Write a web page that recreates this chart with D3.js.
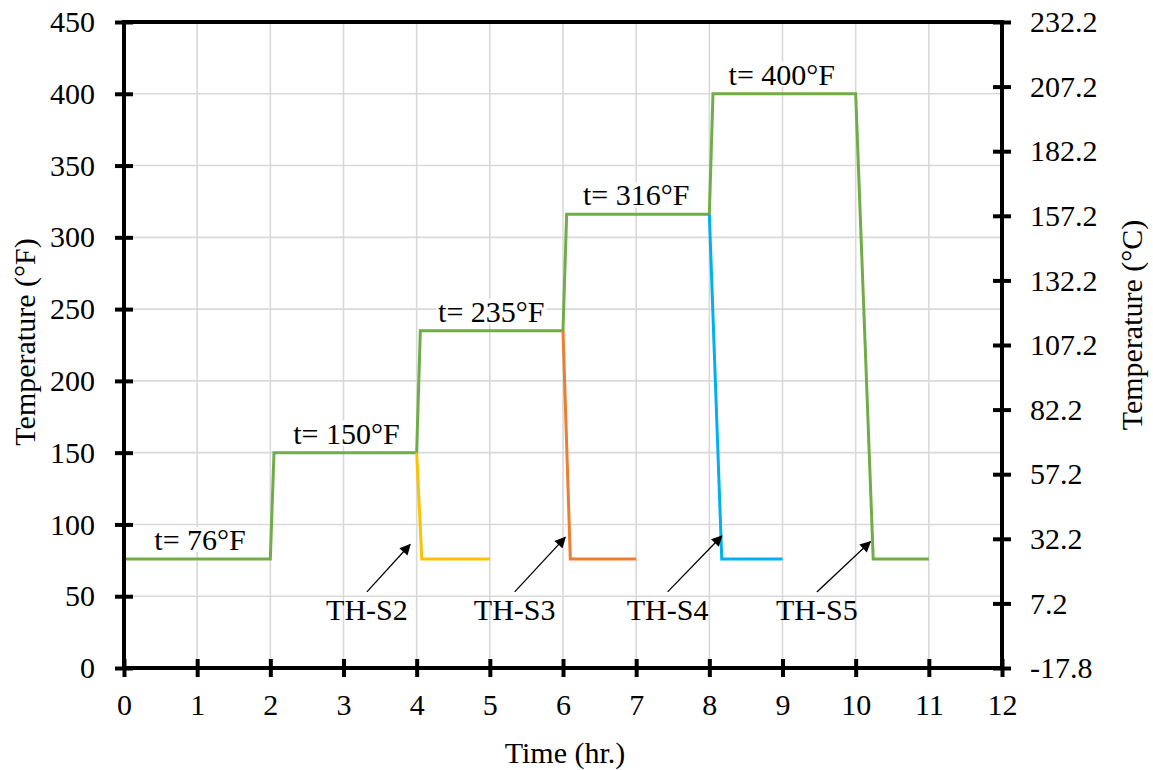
<!DOCTYPE html>
<html>
<head>
<meta charset="utf-8">
<script src="https://cdn.jsdelivr.net/npm/d3@7"></script>
<style>
  html, body { margin: 0; padding: 0; background: #fff; }
  svg text { font-family: "Liberation Serif", "Times New Roman", serif; fill: #000; }
</style>
</head>
<body>
<svg id="chart" width="1153" height="770"></svg>
<script>
// Furnace temperature steps + cool-down of each specimen (TH-S2..TH-S5)

const xTicks = [0, 1, 2, 3, 4, 5, 6, 7, 8, 9, 10, 11, 12];
const yTicksF = [0, 50, 100, 150, 200, 250, 300, 350, 400, 450];
const yTicksC = [-17.8, 7.2, 32.2, 57.2, 82.2, 107.2, 132.2, 157.2, 182.2, 207.2, 232.2];

// main heating curve (green)
const mainTime = [0, 2, 2.05, 4, 4.05, 6, 6.05, 8, 8.05, 10, 10.24, 11];
const mainTemp = [76, 76, 150, 150, 235, 235, 316, 316, 400, 400, 76, 76];

// specimen cool-down curves
const s2Time = [4, 4.07, 5],  s2Temp = [150, 76, 76];
const s3Time = [6, 6.1, 7],   s3Temp = [235, 76, 76];
const s4Time = [8, 8.17, 9],  s4Temp = [316, 76, 76];

const stepLabels = ["t= 76°F", "t= 150°F", "t= 235°F", "t= 316°F", "t= 400°F"];
const stepLabelX = [1.04, 3.04, 5.02, 7.0, 8.99];
const stepLabelY = [76, 150, 235, 316, 400];

const specLabels = ["TH-S2", "TH-S3", "TH-S4", "TH-S5"];
const arrowTailX = [3.32, 5.34, 7.43, 9.47];
const arrowTailY = [53, 53, 53, 53];
const arrowTipX  = [3.91, 6.03, 8.17, 10.2];
const arrowTipY  = [86, 91, 92, 88];

const svg = d3.select("#chart");
const FONT = "30px";

const x = d3.scaleLinear().domain([0, 12]).range([124, 1002]);
const y = d3.scaleLinear().domain([0, 450]).range([668, 22]);
const yC = d3.scaleLinear().domain([-17.8, 232.2]).range([668, 22]);

// Gridlines
const grid = svg.append("g");
grid.selectAll(".gx").data(xTicks.slice(1, -1)).join("line")
    .attr("x1", d => x(d)).attr("x2", d => x(d))
    .attr("y1", y(0)).attr("y2", y(450))
    .attr("stroke", "#d9d9d9").attr("stroke-width", 1.6);
grid.selectAll(".gy").data(yTicksF.slice(1, -1)).join("line")
    .attr("x1", x(0)).attr("x2", x(12))
    .attr("y1", d => y(d)).attr("y2", d => y(d))
    .attr("stroke", "#d9d9d9").attr("stroke-width", 1.6);

// Series
const line = d3.line().x(d => x(d[0])).y(d => y(d[1]));
const series = [
    { t: mainTime, v: mainTemp, c: "#70ad47" },
    { t: s2Time, v: s2Temp, c: "#ffc000" },
    { t: s3Time, v: s3Temp, c: "#ed7d31" },
    { t: s4Time, v: s4Temp, c: "#00b0f0" },
];
svg.append("g").selectAll("path").data(series).join("path")
    .attr("d", d => line(d3.zip(d.t, d.v)))
    .attr("fill", "none")
    .attr("stroke", d => d.c)
    .attr("stroke-width", 3)
    .attr("stroke-linejoin", "miter");

// Step labels (white boxes like the Excel text boxes)
const stepG = svg.append("g").selectAll("g").data(stepLabels).join("g");
stepG.append("text")
    .attr("x", (d, i) => x(stepLabelX[i]))
    .attr("y", (d, i) => y(stepLabelY[i]) - 9)
    .attr("text-anchor", "middle")
    .attr("font-size", FONT)
    .text(d => d);
stepG.each(function () {
    const g = d3.select(this);
    const b = g.select("text").node().getBBox();
    g.insert("rect", "text")
        .attr("x", b.x - 2).attr("y", b.y + 4)
        .attr("width", b.width + 4).attr("height", b.height - 8)
        .attr("fill", "#fff");
});

// Arrows
svg.append("defs").append("marker")
    .attr("id", "arrow")
    .attr("viewBox", "0 0 10 10")
    .attr("refX", 9).attr("refY", 5)
    .attr("markerWidth", 12).attr("markerHeight", 11)
    .attr("markerUnits", "userSpaceOnUse")
    .attr("orient", "auto")
    .append("path")
    .attr("d", "M0,0L10,5L0,10z")
    .attr("fill", "#000");

svg.append("g").selectAll("line").data(specLabels).join("line")
    .attr("x1", (d, i) => x(arrowTailX[i])).attr("y1", (d, i) => y(arrowTailY[i]))
    .attr("x2", (d, i) => x(arrowTipX[i])).attr("y2", (d, i) => y(arrowTipY[i]))
    .attr("stroke", "#000").attr("stroke-width", 1.3)
    .attr("marker-end", "url(#arrow)");

svg.append("g").selectAll("text").data(specLabels).join("text")
    .attr("x", (d, i) => x(arrowTailX[i]))
    .attr("y", (d, i) => y(arrowTailY[i]) + 28)
    .attr("text-anchor", "middle")
    .attr("font-size", FONT)
    .text(d => d);

// Axes with cross ticks
function styleAxis(g, inner, dir) {
    g.select(".domain").remove();
    g.selectAll(".tick line")
        .attr("stroke", "#000").attr("stroke-width", 4)
        .each(function () {
            const l = d3.select(this);
            if (dir === "y") l.attr("x1", inner);
            else l.attr("y1", inner);
        });
    g.selectAll(".tick text").attr("font-size", FONT).attr("fill", "#000");
}

svg.append("g")
    .attr("transform", `translate(${x(0)},0)`)
    .call(d3.axisLeft(y).tickValues(yTicksF).tickSize(9).tickPadding(20))
    .call(g => styleAxis(g, 9, "y"));

svg.append("g")
    .attr("transform", `translate(${x(12)},0)`)
    .call(d3.axisRight(yC).tickValues(yTicksC).tickSize(9).tickPadding(19)
        .tickFormat(d => d.toFixed(1)))
    .call(g => styleAxis(g, -9, "y"));

svg.append("g")
    .attr("transform", `translate(0,${y(0)})`)
    .call(d3.axisBottom(x).tickValues(xTicks).tickSize(9).tickPadding(17))
    .call(g => styleAxis(g, -9, "x"));

// Frame
svg.append("rect")
    .attr("x", x(0)).attr("y", y(450))
    .attr("width", x(12) - x(0)).attr("height", y(0) - y(450))
    .attr("fill", "none").attr("stroke", "#000").attr("stroke-width", 4);

// Axis titles
svg.append("text")
    .attr("x", (x(0) + x(12)) / 2 + 2).attr("y", 763)
    .attr("text-anchor", "middle").attr("font-size", FONT)
    .text("Time (hr.)");

svg.append("text")
    .attr("transform", "translate(35,342) rotate(-90)")
    .attr("text-anchor", "middle").attr("font-size", FONT)
    .text("Temperature (°F)");

svg.append("text")
    .attr("transform", "translate(1142,325) rotate(-90)")
    .attr("text-anchor", "middle").attr("font-size", FONT)
    .text("Temperature (°C)");
</script>
</body>
</html>
